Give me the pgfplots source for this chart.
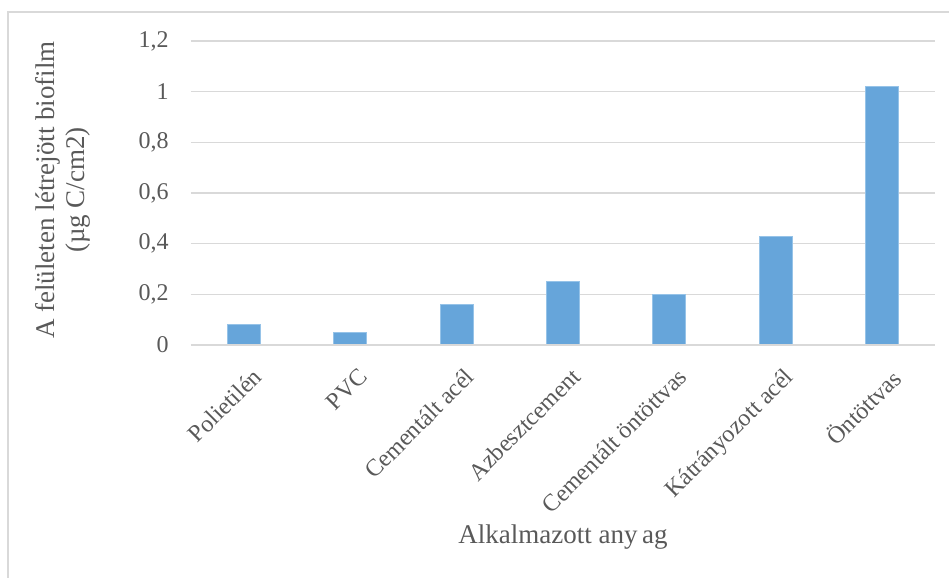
\documentclass[border=0pt]{standalone}
\usepackage{fontspec}
\setmainfont{Liberation Serif}
\usepackage{pgfplots}
\pgfplotsset{compat=1.18}

\definecolor{barblue}{RGB}{102,165,218}
\definecolor{baredge}{RGB}{150,195,232}
\definecolor{gridgray}{RGB}{217,217,217}
\definecolor{txtgray}{RGB}{89,89,89}

\begin{document}
\begin{tikzpicture}
% page area and chart frame
\useasboundingbox (0,0) rectangle (474.5pt,289pt);
\draw[gridgray, line width=1pt] (4pt,0) -- (4pt,283pt) -- (474.5pt,283pt);

\begin{axis}[
  at={(95.5pt,116.5pt)}, anchor=south west,
  scale only axis,
  width=372pt, height=152pt,
  xmin=-0.5, xmax=6.5,
  ymin=0, ymax=1.2,
  ytick={0,0.2,...,1.2},
  xtick=data,
  xticklabels={Polietilén, PVC, Cementált acél, Azbesztcement, Cementált öntöttvas, Kátrányozott acél, Öntöttvas},
  axis line style={draw=none},
  axis x line*=bottom,
  axis y line*=left,
  major tick length=0pt,
  ymajorgrids,
  grid style={gridgray, line width=0.8pt},
  /pgf/number format/assume math mode=true,
  /pgf/number format/use comma,
  tick label style={font=\fontsize{12}{14}\selectfont, text=txtgray},
  yticklabel style={inner sep=0pt, xshift=-11pt},
  xticklabel style={rotate=45, anchor=north east, inner sep=1pt, xshift=-4pt, yshift=-9pt},
  xlabel={Alkalmazott any\,ag},
  xlabel style={font=\fontsize{13.5}{15}\selectfont, text=txtgray, at={(axis description cs:0.5,0)}, anchor=center, yshift=-96pt},
  ylabel={A felületen létrejött biofilm\\(µg C/cm2)},
  ylabel style={font=\fontsize{13.5}{15}\selectfont, text=txtgray, align=center, at={(axis description cs:-0.172,0.51)}, anchor=center, rotate=0},
  clip=false,
]
\addplot[ybar, bar width=16.5pt, fill=barblue, draw=baredge, line width=0.5pt] coordinates {
  (0,0.08) (1,0.05) (2,0.16) (3,0.25) (4,0.20) (5,0.43) (6,1.02)
};
% zero baseline
\draw[gridgray, line width=0.8pt] (axis cs:-0.5,0) -- (axis cs:6.5,0);
\end{axis}
\end{tikzpicture}
\end{document}
